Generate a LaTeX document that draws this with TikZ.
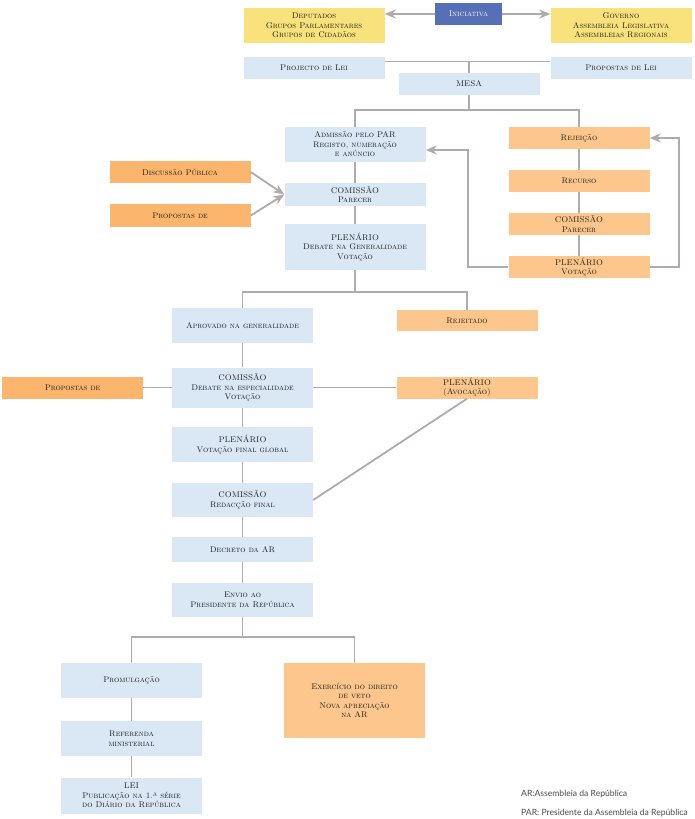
\documentclass[tikz,border=0pt]{standalone}
\usepackage{fontspec}
\newfontfamily\notefont{Lato}
\definecolor{boxblue}{HTML}{DAE8F6}
\definecolor{boxyellow}{HTML}{F9E27B}
\definecolor{boxorange}{HTML}{FDC68C}
\definecolor{darkorange}{HTML}{FBB56C}
\definecolor{initblue}{HTML}{5670B7}
\definecolor{linecol}{HTML}{B0AAAA}
\definecolor{textcol}{HTML}{1A1A1A}
\definecolor{notecol}{HTML}{4A4A4A}
\usetikzlibrary{arrows.meta}

\tikzset{
  stage/.style={rectangle, minimum width=141pt, inner sep=0pt, align=center,
    text=textcol, font=\fontsize{8.2}{9.5}\selectfont\scshape},
  bluestage/.style={stage, fill=boxblue},
  yellowstage/.style={stage, fill=boxyellow},
  orangestage/.style={stage, fill=boxorange},
  darkstage/.style={stage, fill=darkorange},
  link/.style={linecol, line width=1.8pt},
  flow/.style={link, -{Stealth[length=11pt,width=9pt]}},
  note/.style={anchor=base west, inner sep=0pt, text=notecol,
    font=\notefont\fontsize{8.6}{10}\selectfont},
}

\begin{document}
\begin{tikzpicture}[x=1pt, y=-1pt]
\useasboundingbox (0,0) rectangle (695,819);

% === INITIATIVE ===
\node[stage, fill=initblue, text=white, minimum width=67pt, minimum height=22pt] (ini) at (468.5,14) {Iniciativa};
\node[yellowstage, minimum height=35pt] (dep) at (314,25.5) {Deputados\\Grupos Parlamentares\\Grupos de Cidadãos};
\node[yellowstage, minimum height=35pt] (gov) at (621,25.5) {Governo\\Assembleia Legislativa\\Assembleias Regionais};
\draw[flow] (ini.west) -- (ini.west -| dep.east);
\draw[flow] (ini.east) -- (ini.east -| gov.west);

\node[bluestage, minimum height=22pt] (proj) at (314,68) {Projecto de Lei};
\node[bluestage, minimum height=22pt] (prop) at (621,68) {Propostas de Lei};
\node[bluestage, minimum height=22pt] (mesa) at (469,84) {MESA};
\coordinate (top) at ([yshift=6.5pt]proj.east);
\draw[link] (top) -- (top -| prop.west);
\draw[link] (mesa.north) -- (mesa.north |- top);

% === ADMISSION / REJECTION ===
\node[bluestage, minimum height=35pt] (adm) at (355,144.5) {Admissão pelo PAR\\Registo, numeração\\e anúncio};
\node[bluestage, minimum height=23pt] (com1) at (355,194.5) {COMISSÃO\\Parecer};
\node[bluestage, minimum height=46pt] (ple1) at (355,247) {PLENÁRIO\\Debate na Generalidade\\Votação};
\node[darkstage, minimum height=22pt] (disc) at (180,172) {Discussão Pública};
\node[darkstage, minimum height=23pt] (prop1) at (180,215.5) {Propostas de};

\node[orangestage, minimum height=22pt] (rej) at (579,138) {Rejeição};
\node[orangestage, minimum height=22pt] (rec) at (579,181) {Recurso};
\node[orangestage, minimum height=22pt] (com2) at (579,224) {COMISSÃO\\Parecer};
\node[orangestage, minimum height=22pt] (ple2) at (579,267) {PLENÁRIO\\Votação};

\coordinate (split1) at ([yshift=-15pt]mesa.south);
\draw[link] (mesa.south) -- (split1);
\draw[link] (adm.north) |- (split1) -| (rej.north);
\draw[link] (adm) -- (com1);
\draw[link] (com1) -- (ple1);
\draw[flow] (disc.east) -- (com1.west);
\draw[flow] (prop1.east) -- (com1.west);
\draw[link] (rej) -- (rec);
\draw[link] (rec) -- (com2);
\draw[link] (com2) -- (ple2);
\draw[flow] (ple2.east) -- ++(29,0) |- (rej.east);
\draw[flow] (ple2.west) -- ++(-40,0) |- ([yshift=-5.5pt]adm.east);

% === SPECIALITY ===
\node[bluestage, minimum height=35pt] (apr) at (242.5,325.5) {Aprovado na generalidade};
\node[orangestage, minimum height=21pt] (rjt) at (467,320.5) {Rejeitado};
\node[bluestage, minimum height=40pt] (com3) at (242.5,387.5) {COMISSÃO\\Debate na especialidade\\Votação};
\node[darkstage, minimum height=22pt] (prop2) at (72.5,387.5) {Propostas de};
\node[orangestage, minimum height=22pt] (ple3) at (467,387.5) {PLENÁRIO\\(Avocação)};
\node[bluestage, minimum height=35pt] (ple4) at (242.5,444.5) {PLENÁRIO\\Votação final global};
\node[bluestage, minimum height=34pt] (com4) at (242.5,500) {COMISSÃO\\Redacção final};
\node[bluestage, minimum height=25pt] (dec) at (242.5,549.5) {Decreto da AR};
\node[bluestage, minimum height=34pt] (env) at (242.5,600) {Envio ao\\Presidente da República};

\coordinate (split2) at ([yshift=-22pt]ple1.south);
\draw[link] (ple1.south) -- (split2);
\draw[link] (apr.north) |- (split2) -| (rjt.north);
\draw[link] (apr) -- (com3);
\draw[link] (prop2) -- (com3);
\draw[link] (com3) -- (ple3);
\draw[link] (com3) -- (ple4);
\draw[link] (ple4) -- (com4);
\draw[link] (ple3.south) -- (com4.east);
\draw[link] (com4) -- (dec);
\draw[link] (dec) -- (env);

% === PROMULGATION / VETO ===
\node[bluestage, minimum height=35pt] (prom) at (131.5,680.5) {Promulgação};
\node[orangestage, minimum height=75pt] (exe) at (354.5,700.5) {Exercício do direito\\de veto\\Nova apreciação\\na AR};
\node[bluestage, minimum height=35pt] (ref) at (131.5,738.5) {Referenda\\ministerial};
\node[bluestage, minimum height=36pt] (lei) at (131.5,795.5) {LEI\\Publicação na 1.ª série\\do Diário da República};

\coordinate (split3) at ([yshift=-20pt]env.south);
\draw[link] (env.south) -- (split3);
\draw[link] (prom.north) |- (split3) -| (exe.north);
\draw[link] (prom) -- (ref);
\draw[link] (ref) -- (lei);

\node[note] (noteAR) at (521,796) {AR:Assembleia da República};
\node[note] (notePAR) at (521,815) {PAR: Presidente da Assembleia da República};

\end{tikzpicture}
\end{document}
